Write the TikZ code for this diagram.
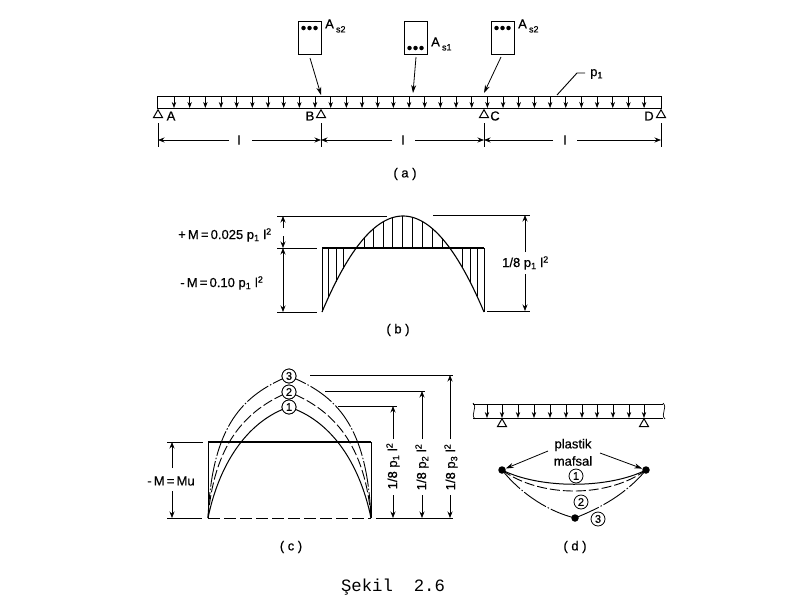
\documentclass[tikz,border=0pt]{standalone}
\usepackage{fontspec}
\setmainfont[FakeBold=0.5]{Liberation Sans}
\newfontfamily\capfont{Liberation Mono}
\usetikzlibrary{arrows.meta,shapes.geometric}
\tikzset{
  ln/.style={line width=0.9pt,black},
  beamline/.style={line width=1pt,black},
  hatch/.style={line width=0.6pt,black},
  thin ext/.style={line width=0.7pt,black},
  dimarrow/.style={line width=0.7pt,black,-{Stealth[length=6.5pt,width=5pt]}},
  load/.style={line width=0.7pt,black,-{Stealth[length=6pt,width=4.4pt]}},
  pointer/.style={line width=0.8pt,black,-{Stealth[length=8pt,width=5pt]}},
  sup tri/.style={regular polygon,regular polygon sides=3,draw=black,line width=1pt,fill=white,inner sep=0pt,minimum size=10.5pt},
  secbox/.style={draw=black,line width=1pt,fill=white,minimum width=23pt,minimum height=33pt,inner sep=0pt},
  rebar/.style={circle,fill=black,inner sep=0pt,minimum size=4.5pt},
  lab/.style={font=\fontsize{13}{15}\selectfont,inner sep=0pt,text=black},
  biglab/.style={font=\fontsize{13}{15}\selectfont,inner sep=0pt,text=black},
  numc/.style={circle,draw=black,line width=0.8pt,fill=white,inner sep=0pt,minimum size=14pt,font=\fontsize{11}{13}\selectfont},
  hinge/.style={circle,fill=black,inner sep=0pt,minimum size=7.5pt},
  curveone/.style={line width=1pt,black},
  curvetwo/.style={line width=0.9pt,black,dash pattern=on 10pt off 3pt},
  curvethree/.style={line width=0.9pt,black,dash pattern=on 26pt off 2pt on 1.5pt off 2pt},
}
\newcommand{\sqz}{\fontsize{9}{10}\selectfont}
\begin{document}
\begin{tikzpicture}[x=1pt,y=-1pt]
\useasboundingbox (0,0) rectangle (800,600);
\fill[white] (0,0) rectangle (800,600);

% ---------- (a) beam
\draw[beamline] (157,96) rectangle (661,108);
\foreach \i in {0,...,30}{
  \pgfmathsetmacro{\xx}{174+15.67*\i}
  \draw[load] (\xx,97) -- (\xx,108);
}
\node[sup tri] (supA) at (158,115) {};
\node[sup tri] (supB) at (321,115) {};
\node[sup tri] (supC) at (484,115) {};
\node[sup tri] (supD) at (661,115) {};
\node[lab] at (171,116) {A};
\node[lab] at (310,116) {B};
\node[lab] at (495,116) {C};
\node[lab] at (649,116) {D};

% dims (a)
\coordinate (dA) at (158,140); \coordinate (dB) at (321,140);
\coordinate (dC) at (484,140); \coordinate (dD) at (661,140);
\draw[thin ext] (158,123) -- (158,147);
\draw[thin ext] (321,123) -- (321,147);
\draw[thin ext] (484,123) -- (484,147);
\draw[thin ext] (661,123) -- (661,147);
\node[lab] (l1) at (239,140) {l};
\node[lab] (l2) at (403,140) {l};
\node[lab] (l3) at (565,140) {l};
\draw[dimarrow] (229,140) -- (dA);
\draw[dimarrow] (252,140) -- (dB);
\draw[dimarrow] (392,140) -- (dB);
\draw[dimarrow] (415,140) -- (dC);
\draw[dimarrow] (553,140) -- (dC);
\draw[dimarrow] (577,140) -- (dD);
\node[biglab] at (405,174) {( a )};

% sections
\node[secbox] (sa) at (309.5,37.5) {};
\node[secbox] (sb) at (415.5,37.5) {};
\node[secbox] (sc) at (502.5,37.5) {};
\foreach \d in {-6,0,6}{
  \node[rebar] at (309.5+\d,28) {};
  \node[rebar] at (415.5+\d,48) {};
  \node[rebar] at (502.5+\d,28) {};
}
\node[lab,anchor=west] at (325,26) {A\,\raisebox{-4pt}{\sqz s2}};
\node[lab,anchor=west] at (431,44) {A\,\raisebox{-4pt}{\sqz s1}};
\node[lab,anchor=west] at (518,26) {A\,\raisebox{-4pt}{\sqz s2}};
\coordinate (ta) at (321,95); \coordinate (tb) at (413,93); \coordinate (tc) at (484,93);
\draw[pointer] (310,58) -- (ta);
\draw[pointer] (416,57) -- (tb);
\draw[pointer] (501,57) -- (tc);
\node[lab,anchor=west] (p1) at (590,74) {p\textsubscript{1}};
\coordinate (pb) at (557,95);
\coordinate (pe) at (585,73);
\draw[ln] (pb) -- (577,73) -- (pe);

% ---------- (b)
\draw[line width=0.8pt] (322,312) -- (322,248);
\draw[line width=0.8pt] (484,248) -- (484,312);
\draw[line width=1.3pt] (322,248) -- (484,248);
\draw[line width=1.1pt,domain=322:484,samples=60,smooth] plot (\x,{216+96*((\x-403)/81)*((\x-403)/81)});
\foreach \xx in {328,336,343,364,373,383,392,402,412,422,432,442,462,470,477}{
  \pgfmathsetmacro{\yy}{216+96*((\xx-403)/81)*((\xx-403)/81)}
  \draw[hatch] (\xx,248) -- (\xx,\yy);
}
\draw[thin ext] (277,216) -- (387,216);
\draw[thin ext] (433,215) -- (530,215);
\draw[thin ext] (277,248) -- (317,248);
\draw[thin ext] (277,312) -- (317,312);
\draw[thin ext] (487,311) -- (530,311);
\draw[dimarrow] (283,228) -- (283,216);
\draw[dimarrow] (283,236) -- (283,248);
\draw[dimarrow] (283,262) -- (283,248);
\draw[dimarrow] (283,296) -- (283,312);
\draw[line width=0.7pt] (283,262) -- (283,296);
\draw[dimarrow] (525,252) -- (525,215);
\draw[dimarrow] (525,274) -- (525,311);
\node[lab,anchor=west] at (178,235) {+\,M\,=\,0.025 p\textsubscript{1} l\textsuperscript{2}};
\node[lab,anchor=west] at (178,283) {\,-\,M\,=\,0.10 p\textsubscript{1} l\textsuperscript{2}};
\node[lab,anchor=west] at (502,263) {1/8 p\textsubscript{1} l\textsuperscript{2}};
\node[biglab] at (398,330) {( b )};

% ---------- (c)
\draw[line width=0.9pt] (208,518) -- (208,442);
\draw[line width=0.9pt] (371,442) -- (371,518);
\draw[line width=1.3pt] (208,442) -- (371,442);
\draw[line width=1pt,dash pattern=on 12pt off 4pt] (208,518) -- (371,518);
\node[numc] (c3) at (289,376) {3};
\node[numc] (c2) at (289,392) {2};
\node[numc] (c1) at (289,407) {1};
\draw[curveone] (208,518) .. controls (220,460) and (250,420) .. (c1.center);
\draw[curveone] (371,518) .. controls (359,460) and (329,420) .. (c1.center);
\draw[curvetwo] (208,518) .. controls (214,445) and (245,410) .. (c2.center);
\draw[curvetwo] (371,518) .. controls (365,445) and (334,410) .. (c2.center);
\draw[curvethree] (208,518) .. controls (212,425) and (243,395) .. (c3.center);
\draw[curvethree] (371,518) .. controls (367,425) and (336,395) .. (c3.center);
\node[numc] at (c3) {3};
\node[numc] at (c2) {2};
\node[numc] at (c1) {1};
\draw[thin ext] (167,442) -- (203,442);
\draw[thin ext] (167,518) -- (202,518);
\draw[dimarrow] (172,468) -- (172,442);
\draw[dimarrow] (172,491) -- (172,518);
\node[lab] at (171,481) {-\,M\,=\,Mu};
\draw[thin ext] (376,518) -- (453,518);
\draw[thin ext] (338,406) -- (397,406);
\draw[thin ext] (325,391) -- (425,391);
\draw[thin ext] (310,375) -- (453,375);
\draw[dimarrow] (393,439) -- (393,406);
\draw[dimarrow] (422,439) -- (422,391);
\draw[dimarrow] (450,439) -- (450,375);
\draw[dimarrow] (393,495) -- (393,518);
\draw[dimarrow] (422,495) -- (422,518);
\draw[dimarrow] (450,495) -- (450,518);
\node[lab,rotate=90] at (393,466) {1/8 p\textsubscript{1} l\textsuperscript{2}};
\node[lab,rotate=90] at (422,467) {1/8 p\textsubscript{2} l\textsuperscript{2}};
\node[lab,rotate=90] at (451,467) {1/8 p\textsubscript{3} l\textsuperscript{2}};
\node[biglab] at (291,547) {( c )};

% ---------- (d)
\draw[beamline] (473,404) -- (663,404);
\draw[beamline] (473,418) -- (663,418);
\draw[line width=0.7pt] (473,403) .. controls (478,408) and (470,414) .. (475,419);
\draw[line width=0.7pt] (663,403) .. controls (668,408) and (660,414) .. (665,419);
\foreach \xx in {487,502,518,534,550,566,582,597,613,629,644}{
  \draw[load] (\xx,405) -- (\xx,418);
}
\node[sup tri] (supE) at (502,424) {};
\node[sup tri] (supF) at (644,424) {};
\node[lab] (pl) at (573,445) {plastik};
\node[lab] (mf) at (573,461) {mafsal};
\node[hinge] (h1) at (502,470) {};
\node[hinge] (h2) at (646,470) {};
\node[hinge] (h3) at (575,518) {};
\draw[pointer] (548,451) -- (h1);
\draw[pointer] (600,453) -- (h2);
\draw[curveone] (h1.center) .. controls (540,489) and (608,489) .. (h2.center);
\draw[curvetwo] (h1.center) .. controls (540,498) and (608,498) .. (h2.center);
\draw[curvethree] (h1.center) .. controls (522,495) and (550,512) .. (h3.center);
\draw[curvethree] (h3.center) .. controls (600,508) and (625,495) .. (h2.center);
\node[numc] at (576,476) {1};
\node[numc] at (581,502) {2};
\node[numc] at (598,519) {3};
\node[biglab] at (575,547) {( d )};

% caption
\node[inner sep=0pt,font=\capfont\fontsize{17.3}{19}\selectfont] at (393,587) {Şekil\ \ 2.6};
\end{tikzpicture}
\end{document}
